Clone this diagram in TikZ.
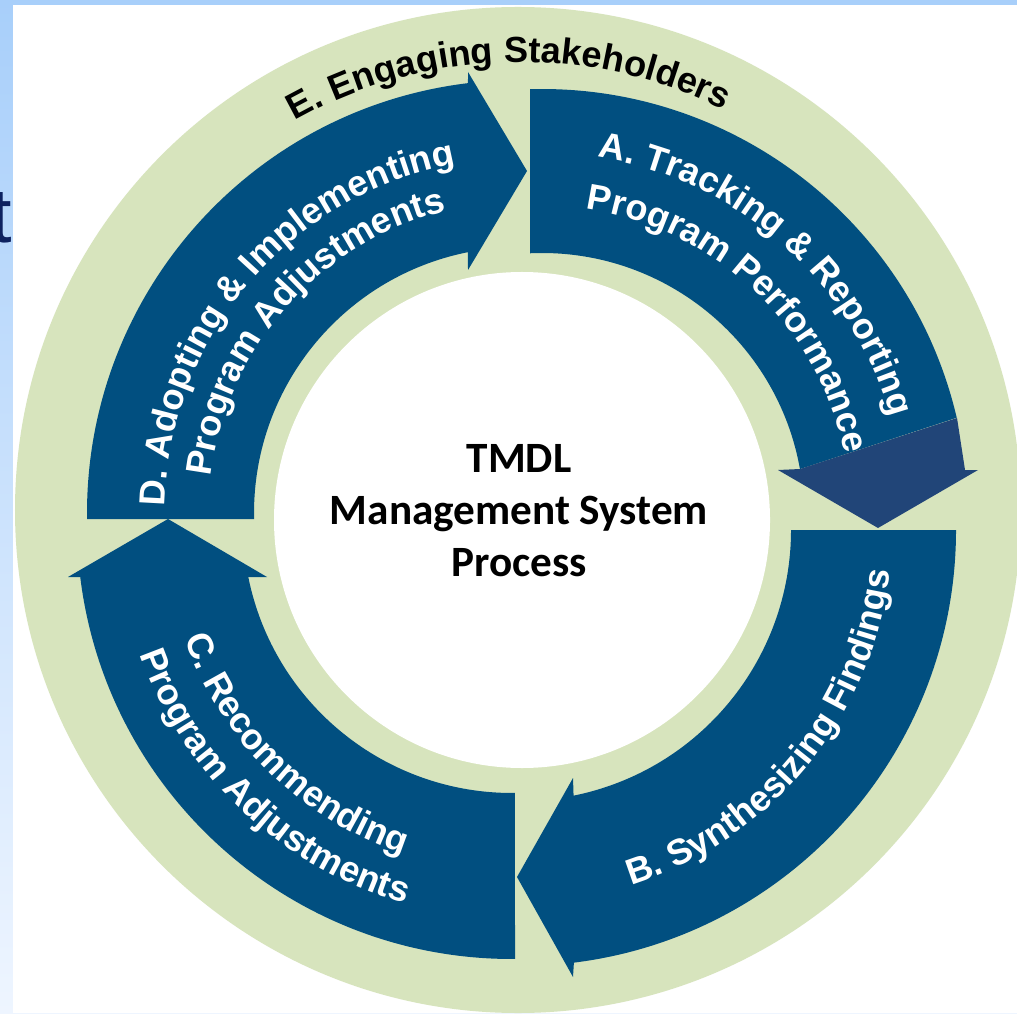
\documentclass[tikz,border=0pt]{standalone}
\usepackage{fontspec}
\setmainfont{Liberation Sans}
\newfontfamily\calfont{Carlito}
\usetikzlibrary{decorations.text}

\definecolor{ringgreen}{RGB}{215,228,189}
\definecolor{stepblue}{RGB}{1,79,128}
\definecolor{headblue}{RGB}{33,69,120}
\definecolor{stripblue}{RGB}{168,207,250}
\definecolor{stripwhite}{RGB}{238,245,255}
\definecolor{titleblue}{RGB}{14,34,96}

\newcommand{\wlbl}{\bfseries\fontsize{10.3}{12}\selectfont\color{white}}
\newcommand{\blbl}{\bfseries\fontsize{10.3}{12}\selectfont\color{black}}

\tikzset{
	arrowbody/.style={fill=stepblue},
	arrowtip/.style={fill=headblue},
	ringlabel/.style={decorate,decoration={text along path,text align=center,text={#1}}},
}

\begin{document}
\begin{tikzpicture}
			\useasboundingbox (0,0) rectangle (10.17,10.13);
			\clip (0,0) rectangle (10.17,10.13);
			\shade [top color=stripblue,bottom color=stripwhite] (0,0) rectangle (10.17,10.13);
			\node [anchor=base west,text=titleblue,inner sep=0,font=\fontsize{22}{26}\selectfont] (title) at (-0.10,7.70) {t};
			\fill [white] (0.13,0) rectangle (10.17,10.08);
			\fill [ringgreen] (5.18,5.03) circle (5.03);
			\fill [white] (5.22,4.93) circle (2.48);
			\coordinate (cA) at (5.42,4.98);
			\coordinate (cB) at (5.20,4.83);
			\coordinate (cC) at (5.12,4.89);
			\coordinate (cD) at (5.20,5.00);
			\coordinate (cE) at (5.20,4.93);
			\fill [arrowbody] ([shift={(91.6:4.26)}]cA) arc [start angle=91.6,end angle=13.2,radius=4.26] -- ([shift={(10.1:2.62)}]cA) arc [start angle=10.1,end angle=92.6,radius=2.62] -- cycle;
			\fill [arrowtip] (9.57,5.95) -- (9.65,5.43) -- (9.78,5.43) -- (8.78,4.85) -- (7.78,5.43) -- (8.00,5.44) -- cycle;
			\fill [arrowbody] ([shift={(0:4.36)}]cB) arc [start angle=0,end angle=-82.9,radius=4.36] -- (5.73,0.36) -- (5.17,1.36) -- (5.73,2.35) -- ([shift={(-78.6:2.71)}]cB) arc [start angle=-78.6,end angle=0,radius=2.71] -- cycle;
			\fill [arrowbody] ([shift={(-89.6:4.35)}]cC) arc [start angle=-89.6,end angle=-173,radius=4.35] -- (0.68,4.36) -- (1.68,4.94) -- (2.67,4.36) -- ([shift={(-168.6:2.69)}]cC) arc [start angle=-168.6,end angle=-89.4,radius=2.69] -- cycle;
			\fill [arrowbody] ([shift={(180.8:4.33)}]cD) arc [start angle=180.8,end angle=96.9,radius=4.33] -- (4.68,9.41) -- (5.27,8.42) -- (4.68,7.43) -- ([shift={(101.3:2.66)}]cD) arc [start angle=101.3,end angle=181.3,radius=2.66] -- cycle;
			\path [ringlabel={|\blbl|E. Engaging Stakeholders}] ([shift={(131.5:4.58)}]cE) arc [start angle=131.5,end angle=51.5,radius=4.58];
			\path [ringlabel={|\wlbl|A. Tracking {\&} Reporting}] ([shift={(93.4:3.62)}]cA) arc [start angle=93.4,end angle=3.4,radius=3.62];
			\path [ringlabel={|\wlbl|Program Performance}] ([shift={(91.6:3.09)}]cA) arc [start angle=91.6,end angle=1.6,radius=3.09];
			\path [ringlabel={|\wlbl|B. Synthesizing Findings}] ([shift={(-84.5:3.72)}]cB) arc [start angle=-84.5,end angle=5.5,radius=3.72];
			\path [ringlabel={|\wlbl|C. Recommending}] ([shift={(180.5:3.47)}]cC) arc [start angle=180.5,end angle=270.5,radius=3.47];
			\path [ringlabel={|\wlbl|Program Adjustments}] ([shift={(181.8:3.94)}]cC) arc [start angle=181.8,end angle=271.8,radius=3.94];
			\path [ringlabel={|\wlbl|D. Adopting {\&} Implementing}] ([shift={(189.7:3.55)}]cD) arc [start angle=189.7,end angle=89.7,radius=3.55];
			\path [ringlabel={|\wlbl|Program Adjustments}] ([shift={(188.5:3.11)}]cD) arc [start angle=188.5,end angle=88.5,radius=3.11];
			\node [font=\calfont\bfseries\fontsize{12.3}{14.8}\selectfont,align=center,inner sep=0] (core) at (5.19,5.02) {TMDL\\Management System\\Process};
		\end{tikzpicture}
\end{document}
